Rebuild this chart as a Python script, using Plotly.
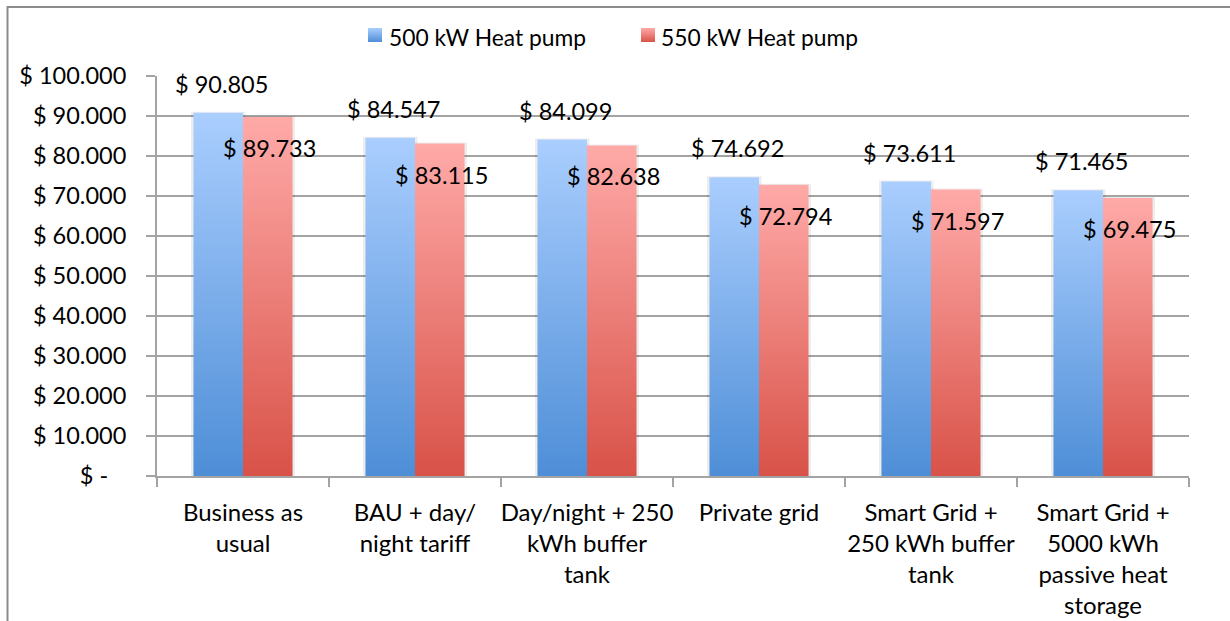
import base64
import plotly.graph_objects as go

# Scenario names (line breaks as printed under each group)
categories = [
    "Business as<br>usual",
    "BAU + day/<br>night tariff",
    "Day/night + 250<br>kWh buffer<br>tank",
    "Private grid",
    "Smart Grid +<br>250 kWh buffer<br>tank",
    "Smart Grid +<br>5000 kWh<br>passive heat<br>storage",
]

# Annual cost per scenario, in dollars
hp500 = [90805, 84547, 84099, 74692, 73611, 71465]
hp550 = [89733, 83115, 82638, 72794, 71597, 69475]

series_names = ["500 kW Heat pump", "550 kW Heat pump"]

y_ticks = [0, 10000, 20000, 30000, 40000, 50000, 60000, 70000, 80000, 90000, 100000]

FONT = "Lato, 'Open Sans', sans-serif"
FS = 23.5
BAR_W = 0.288  # width of one bar in category units

# plot-area geometry in pixels (used to place the legend outside the axes)
L, T, PW, PH = 157, 76, 1032, 400

blue_top, blue_bot = "rgb(170,206,254)", "rgb(78,142,215)"
red_top, red_bot = "rgb(255,170,168)", "rgb(216,82,72)"
blue_scale = [[0, blue_bot], [1, blue_top]]
red_scale = [[0, red_bot], [1, red_top]]


def money(v):
    if v == 0:
        return "$ -\u00a0\u00a0\u00a0"
    return "$ " + f"{v:,}".replace(",", ".")


def gradient_square(top, bottom):
    svg = (
        "<svg xmlns='http://www.w3.org/2000/svg' width='14' height='14'>"
        "<defs><linearGradient id='g' x1='0' y1='0' x2='0' y2='1'>"
        f"<stop offset='0' stop-color='{top}'/>"
        f"<stop offset='1' stop-color='{bottom}'/>"
        "</linearGradient></defs>"
        "<rect width='14' height='14' fill='url(#g)'/></svg>"
    )
    return "data:image/svg+xml;base64," + base64.b64encode(svg.encode()).decode()


def px_x(p):
    return (p - L) / PW


def px_y(p):
    return (T + PH - p) / PH


fig = go.Figure()

series = [
    (series_names[0], hp500, blue_scale, -1),
    (series_names[1], hp550, red_scale, 0),
]

# soft shadow behind each bar
pad_x = 2.5 / 172
for name, vals, scale, side in series:
    for i, v in enumerate(vals):
        c = i + 0.5
        x0 = c + side * BAR_W - pad_x
        x1 = c + side * BAR_W + BAR_W + pad_x
        top = v + 250
        fig.add_trace(
            go.Scatter(
                x=[x0, x1, x1, x0, x0],
                y=[-300, -300, top, top, -300],
                mode="lines",
                line=dict(width=0),
                fill="toself",
                fillcolor="rgba(0,0,0,0.07)",
                showlegend=False,
                hoverinfo="skip",
            )
        )

# gradient-filled bars
for name, vals, scale, side in series:
    for i, v in enumerate(vals):
        c = i + 0.5
        x0 = c + side * BAR_W
        x1 = x0 + BAR_W
        fig.add_trace(
            go.Scatter(
                x=[x0, x1, x1, x0, x0],
                y=[0, 0, v, v, 0],
                mode="lines",
                line=dict(width=0),
                fill="toself",
                fillgradient=dict(type="vertical", colorscale=scale),
                name=name,
                showlegend=False,
                hoverinfo="skip",
            )
        )

# Value labels: above the left bar, inside the top of the right bar
annotations = []
for i, v in enumerate(hp500):
    annotations.append(
        dict(
            x=i + 0.5 - BAR_W / 2, y=v, xref="x", yref="y",
            text=money(v), showarrow=False, xshift=3, yshift=29,
            font=dict(family=FONT, size=FS, color="#000000"),
        )
    )
for i, v in enumerate(hp550):
    annotations.append(
        dict(
            x=i + 0.5 + BAR_W / 2, y=v, xref="x", yref="y",
            text=money(v), showarrow=False, xshift=2, yshift=-31,
            font=dict(family=FONT, size=FS, color="#000000"),
        )
    )

# Legend: gradient swatches with series names
legend_items = [
    (series_names[0], blue_top, blue_bot, 368, 387),
    (series_names[1], red_top, red_bot, 641, 659),
]
images = []
for name, top, bot, sq_x, tx_x in legend_items:
    images.append(
        dict(
            source=gradient_square(top, bot),
            xref="paper", yref="paper",
            x=px_x(sq_x), y=px_y(28),
            sizex=14 / PW, sizey=14 / PH,
            xanchor="left", yanchor="top",
            sizing="stretch", layer="above",
        )
    )
    annotations.append(
        dict(
            x=px_x(tx_x), y=px_y(37), xref="paper", yref="paper",
            xanchor="left", yanchor="middle",
            text=name, showarrow=False,
            font=dict(family=FONT, size=22.8, color="#000000"),
        )
    )

grid = "#a3a3a3"

fig.update_layout(
    width=1230,
    height=621,
    margin=dict(l=L, r=1230 - L - PW, t=T, b=621 - T - PH, autoexpand=False),
    paper_bgcolor="white",
    plot_bgcolor="white",
    font=dict(family=FONT, size=FS, color="#000000"),
    showlegend=False,
    annotations=annotations,
    images=images,
    xaxis=dict(
        range=[0, 6],
        automargin=False,
        tickmode="array",
        tickvals=[i + 0.5 for i in range(len(categories))],
        ticktext=categories,
        ticks="",
        tickfont=dict(family=FONT, size=24),
        showgrid=False,
        zeroline=False,
        showline=True,
        linecolor=grid,
        linewidth=2,
        ticklabelstandoff=14,
        minor=dict(
            tickmode="array",
            tickvals=list(range(len(categories) + 1)),
            ticks="outside",
            ticklen=9,
            tickwidth=2,
            tickcolor=grid,
            showgrid=False,
        ),
        fixedrange=True,
    ),
    yaxis=dict(
        range=[0, 100000],
        automargin=False,
        tickmode="array",
        tickvals=y_ticks,
        ticktext=[money(v) for v in y_ticks],
        ticks="outside",
        ticklen=9,
        tickwidth=2,
        tickcolor=grid,
        showgrid=True,
        gridcolor=grid,
        gridwidth=2,
        zeroline=False,
        showline=True,
        linecolor=grid,
        linewidth=2,
        ticklabelstandoff=15,
        fixedrange=True,
    ),
    shapes=[
        dict(
            type="rect", xref="paper", yref="paper",
            x0=px_x(7.5), x1=px_x(1240),
            y0=-0.5, y1=px_y(7),
            line=dict(color="#8c8c8c", width=2),
            fillcolor="rgba(0,0,0,0)",
            layer="below",
        )
    ],
)

fig.write_html("out.html")
